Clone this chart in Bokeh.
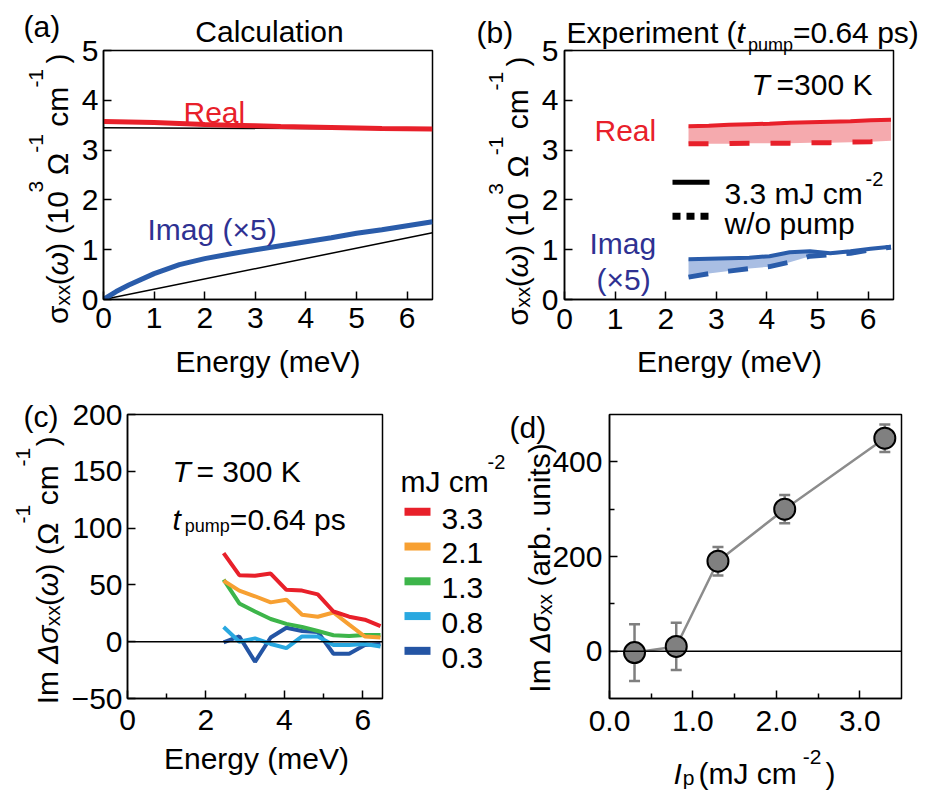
import math
from bokeh.plotting import figure
from bokeh.layouts import column, row
from bokeh.models import (Range1d, FixedTicker, Span, Whisker, ColumnDataSource, TeeHead,
                          NumeralTickFormatter)
from bokeh.core.properties import value
from bokeh.embed import file_html
from bokeh.resources import INLINE

FONT = "Liberation Sans"
RED = "#E8202A"
BLUE = "#2A5CAA"
INDIGO = "#2E3192"

# ---------------- data ----------------
# (a) calculation
calc_energy = [0, 0.25, 0.5, 1, 1.5, 2, 2.5, 3, 3.5, 4, 4.5, 5, 5.5, 6, 6.5]
calc_real = [3.575, 3.57, 3.565, 3.555, 3.535, 3.515, 3.50, 3.49, 3.475, 3.465, 3.455, 3.445, 3.435, 3.43, 3.425]
calc_imag = [0.0, 0.16, 0.29, 0.52, 0.70, 0.82, 0.915, 1.0, 1.08, 1.16, 1.24, 1.33, 1.40, 1.48, 1.56]
ref_energy = [0, 6.5]
ref_real = [3.45, 3.42]
ref_imag = [0.0, 1.34]

# (b) experiment
exp_energy = [2.45, 2.85, 3.25, 3.65, 4.05, 4.45, 4.85, 5.25, 5.65, 6.05, 6.45]
exp_real_pump = [3.48, 3.49, 3.51, 3.52, 3.53, 3.55, 3.56, 3.57, 3.58, 3.60, 3.61]
exp_real_nopump = [3.13, 3.13, 3.13, 3.14, 3.14, 3.14, 3.15, 3.15, 3.16, 3.17, 3.19]
exp_imag_pump = [0.81, 0.82, 0.83, 0.84, 0.87, 0.95, 0.97, 0.93, 0.97, 1.02, 1.06]
exp_imag_nopump = [0.45, 0.52, 0.57, 0.62, 0.66, 0.75, 0.87, 0.90, 0.93, 1.00, 1.05]

# (c) Im delta sigma for each fluence (mJ cm^-2)
fluence_labels = ["3.3", "2.1", "1.3", "0.8", "0.3"]
fluence_colors = ["#E8202A", "#F7A032", "#3DB54A", "#29A8E0", "#2455A4"]
dsig_33 = [78, 58.6, 58, 60, 45.7, 45, 41.7, 26.6, 22, 19.4, 13.7]
dsig_21 = [53.7, 45, 40, 34.6, 37, 23.7, 22, 25.7, 15, 4.6, 3.7]
dsig_13 = [54.6, 33.7, 26.6, 20, 15.7, 13, 9.4, 5.7, 5, 6, 6]
dsig_08 = [12.9, 0, 2.9, -2, -5.7, 4.6, 4.6, -2.9, -2.9, -2, -4.3]
dsig_03 = [-0.6, 4.6, -17.7, 3.7, 12.3, 9.4, 8.6, -10.6, -10.6, -2.9, -2]

# (d) fluence dependence
fluence = [0.3, 0.8, 1.3, 2.1, 3.3]
im_dsig = [-3, 10, 190, 300, 450]
im_dsig_err = [60, 50, 30, 30, 29]

# ---------------- layout geometry (page px) ----------------
GEOM = {
    "a": dict(o=(0, 0), size=(464, 395), fr=(103, 50, 432, 305), xr=(0, 6.5), yr=(0, 5)),
    "b": dict(o=(464, 0), size=(464, 395), fr=(564, 43, 893, 299), xr=(0, 6.5), yr=(0, 5)),
    "c": dict(o=(0, 395), size=(508, 395), fr=(127, 414, 382, 706), xr=(0, 6.5), yr=(-50, 200)),
    "d": dict(o=(508, 395), size=(420, 395), fr=(609, 405, 901, 698), xr=(0, 3.5), yr=(-100, 500)),
}

# approximate advance widths (Arial / Liberation Sans, per 1000 em)
WID = {" ": 278, "(": 333, ")": 333, "-": 333, ".": 278, "/": 278, "=": 584, "×": 584,
       "E": 667, "I": 278, "J": 500, "K": 667, "R": 722, "T": 611, "C": 722,
       "a": 556, "b": 556, "c": 500, "d": 556, "e": 556, "g": 556, "i": 222, "l": 222,
       "m": 833, "n": 556, "o": 556, "p": 556, "r": 333, "s": 500, "t": 278, "u": 556,
       "w": 722, "x": 500, "y": 500, "k": 500, "f": 278, "h": 556, "v": 500,
       "σ": 617, "ω": 781, "Ω": 768, "Δ": 668}
SP = 8.3  # width of a space at 30px


def tw(s, size):
    return sum(WID.get(ch, 556) for ch in s) * size / 1000.0


def to_data(g, X, Y):
    L, T, R, B = g["fr"]
    x0, x1 = g["xr"]
    y0, y1 = g["yr"]
    return x0 + (X - L) / (R - L) * (x1 - x0), y1 - (Y - T) / (B - T) * (y1 - y0)


def make_fig(key, tick_std_x, tick_std_y):
    g = GEOM[key]
    ox, oy = g["o"]
    w, h = g["size"]
    L, T, R, B = g["fr"]
    p = figure(width=w, height=h, x_range=Range1d(*g["xr"]), y_range=Range1d(*g["yr"]),
               output_backend="svg", toolbar_location=None,
               min_border_left=L - ox, min_border_right=(ox + w) - R,
               min_border_top=T - oy, min_border_bottom=(oy + h) - B)
    p.grid.visible = False
    p.outline_line_color = "black"
    p.outline_line_width = 1.5
    p.outline_line_alpha = 1
    p.background_fill_color = "white"
    p.border_fill_color = "white"
    for ax in (p.xaxis[0], p.yaxis[0]):
        ax.axis_line_color = "black"
        ax.axis_line_width = 1.5
        ax.major_tick_in = 8
        ax.major_tick_out = 0
        ax.minor_tick_in = 5
        ax.minor_tick_out = 0
        ax.major_tick_line_width = 1.5
        ax.minor_tick_line_width = 1.5
        ax.major_tick_line_color = "black"
        ax.minor_tick_line_color = "black"
        ax.major_label_text_font = FONT
        ax.major_label_text_font_size = "30px"
        ax.major_label_text_color = "black"
    p.xaxis.major_label_standoff = tick_std_x
    p.yaxis.major_label_standoff = tick_std_y
    return p


def txt(p, key, X, Y, text, size=30, color="black", style="normal", align="left", angle=0.0):
    x, y = to_data(GEOM[key], X, Y)
    p.text(x=[x], y=[y], text=[text], text_font=value(FONT), text_font_size=value(f"{size}px"),
           text_color=color, text_font_style=style, text_align=align,
           text_baseline="alphabetic", angle=angle, level="overlay")


def runs(p, key, X, Y, parts, color="black", rotated=False):
    """Lay out text runs along a baseline; parts = (text, size, style, raise, gap_before)."""
    cum = 0.0
    for text, size, style, dy, gap in parts:
        cum += gap
        if rotated:
            txt(p, key, X - dy, Y - cum, text, size=size, style=style, color=color, angle=math.pi / 2)
        else:
            txt(p, key, X + cum, Y - dy, text, size=size, style=style, color=color)
        cum += tw(text, size)


def seg(p, key, X0, Y0, X1, Y1, **kw):
    x0, y0 = to_data(GEOM[key], X0, Y0)
    x1, y1 = to_data(GEOM[key], X1, Y1)
    p.segment(x0=[x0], y0=[y0], x1=[x1], y1=[y1], level="overlay", **kw)


SIGMA_LABEL = [("σ", 30, "normal", 0, 0), ("xx", 21, "normal", -5, 0), ("(", 30, "normal", 0, 0),
               ("ω", 30, "italic", 0, 0), (") (10", 30, "normal", 0, 0), ("3", 21, "normal", 22, 0),
               ("Ω", 30, "normal", 0, 6), ("-1", 21, "normal", 22, 0), ("cm", 30, "normal", 0, 8),
               ("-1", 21, "normal", 22, 0), (")", 30, "normal", 0, 6)]

# ---------------- (a) ----------------
pa = make_fig("a", 8, 5)
pa.xaxis.ticker = FixedTicker(ticks=[0, 1, 2, 3, 4, 5, 6])
pa.yaxis.ticker = FixedTicker(ticks=[0, 1, 2, 3, 4, 5])
pa.line(ref_energy, ref_real, line_color="black", line_width=1.5)
pa.line(ref_energy, ref_imag, line_color="black", line_width=1.5)
pa.line(calc_energy, calc_real, line_color=RED, line_width=5)
pa.line(calc_energy, calc_imag, line_color=BLUE, line_width=5)
txt(pa, "a", 23, 25, "(a)")
txt(pa, "a", 269, 31, "Calculation", align="center")
txt(pa, "a", 183, 113, "Real", color=RED)
txt(pa, "a", 147, 233, "Imag (×5)", color=INDIGO)
txt(pa, "a", 267.5, 368, "Energy (meV)", align="center")
runs(pa, "a", 57, 330, SIGMA_LABEL, rotated=True)

# ---------------- (b) ----------------
pb = make_fig("b", 9, 6)
pb.xaxis.ticker = FixedTicker(ticks=[0, 1, 2, 3, 4, 5, 6])
pb.yaxis.ticker = FixedTicker(ticks=[0, 1, 2, 3, 4, 5])
pb.varea(x=exp_energy, y1=exp_real_nopump, y2=exp_real_pump, fill_color="#F5AAAE", fill_alpha=1)
pb.varea(x=exp_energy, y1=exp_imag_nopump, y2=exp_imag_pump, fill_color="#A9BEE3", fill_alpha=1)
pb.line(exp_energy, exp_real_pump, line_color=RED, line_width=4)
pb.line(exp_energy, exp_real_nopump, line_color=RED, line_width=5, line_dash="20 21")
pb.line(exp_energy, exp_imag_pump, line_color=BLUE, line_width=4)
pb.line(exp_energy, exp_imag_nopump, line_color=BLUE, line_width=5, line_dash="20 20")
# legend (drawn by hand)
seg(pb, "b", 672, 178.5, 709, 178.5, line_color="black", line_width=5)
seg(pb, "b", 672, 213.5, 709, 213.5, line_color="black", line_width=7, line_dash="8 6")
txt(pb, "b", 724, 190, "3.3 mJ cm")
txt(pb, "b", 865, 175, "-2", size=20)
txt(pb, "b", 724, 221, "w/o pump")
txt(pb, "b", 476, 25, "(b)")
runs(pb, "b", 566, 25, [("Experiment (", 30, "normal", 0, 0), ("t", 30, "italic", 0, 0),
                        ("pump", 18, "normal", -12, 3), ("=0.64 ps)", 30, "normal", 0, 0)])
txt(pb, "b", 751, 78, "T", style="italic")
txt(pb, "b", 776, 78, "=300 K")
txt(pb, "b", 594, 125, "Real", color=RED)
txt(pb, "b", 589, 241, "Imag", color=INDIGO)
txt(pb, "b", 596, 278, "(×5)", color=INDIGO)
txt(pb, "b", 729, 363, "Energy (meV)", align="center")
runs(pb, "b", 517, 326, SIGMA_LABEL, rotated=True)

# ---------------- (c) ----------------
pc = make_fig("c", 11, 5)
pc.xaxis.ticker = FixedTicker(ticks=[0, 2, 4, 6], minor_ticks=[1, 3, 5])
pc.yaxis.ticker = FixedTicker(ticks=[-50, 0, 50, 100, 150, 200])
pc.add_layout(Span(location=0, dimension="width", line_color="black", line_width=1.5))
series_c = [dsig_33, dsig_21, dsig_13, dsig_08, dsig_03]
for vals, col in reversed(list(zip(series_c, fluence_colors))):
    pc.line(exp_energy, vals, line_color=col, line_width=4)
# legend (drawn by hand)
txt(pc, "c", 400, 483, "mJ cm")
txt(pc, "c", 487, 463, "-2", size=20)
for i, (lbl, col) in enumerate(zip(fluence_labels, fluence_colors)):
    yy = 514 + 35.75 * i
    seg(pc, "c", 404, yy, 430, yy, line_color=col, line_width=8)
    txt(pc, "c", 441, yy + 7, lbl)
txt(pc, "c", 23, 416, "(c)")
txt(pc, "c", 172, 473, "T", style="italic")
txt(pc, "c", 196, 473, "= 300 K")
runs(pc, "c", 172, 522, [("t", 30, "italic", 0, 0), ("pump", 18, "normal", -7, 4),
                         ("=0.64 ps", 30, "normal", 0, 0)])
txt(pc, "c", 256, 768, "Energy (meV)", align="center")
runs(pc, "c", 47, 712, [("Im", 30, "normal", 0, 0), ("Δσ", 30, "italic", 0, SP),
                        ("xx", 21, "normal", -5, 0), ("(", 30, "normal", 0, 0),
                        ("ω", 30, "italic", 0, 0), (") (Ω", 30, "normal", 0, 0),
                        ("-1", 21, "normal", 25, 0), ("cm", 30, "normal", 0, 0),
                        ("-1", 21, "normal", 25, 0), (")", 30, "normal", 0, 2)], rotated=True)

# ---------------- (d) ----------------
pd_ = make_fig("d", 12, 7)
pd_.xaxis.ticker = FixedTicker(ticks=[0, 1, 2, 3], minor_ticks=[0.5, 1.5, 2.5])
pd_.yaxis.ticker = FixedTicker(ticks=[0, 200, 400], minor_ticks=[100, 300])
pd_.xaxis.formatter = NumeralTickFormatter(format="0.0")
pd_.add_layout(Span(location=0, dimension="width", line_color="black", line_width=1.5))
src_d = ColumnDataSource(dict(x=fluence, y=im_dsig,
                              upper=[v + e for v, e in zip(im_dsig, im_dsig_err)],
                              lower=[v - e for v, e in zip(im_dsig, im_dsig_err)]))
pd_.add_layout(Whisker(source=src_d, base="x", upper="upper", lower="lower",
                       line_color="#7F7F7F", line_width=2.5,
                       upper_head=TeeHead(size=11, line_color="#7F7F7F", line_width=2.5),
                       lower_head=TeeHead(size=11, line_color="#7F7F7F", line_width=2.5)))
pd_.line("x", "y", source=src_d, line_color="#8C8C8C", line_width=2.5)
pd_.scatter("x", "y", source=src_d, size=21, fill_color="#808080", line_color="black", line_width=2)
txt(pd_, "d", 509, 418, "(d)")
runs(pd_, "d", 673, 775, [("I", 30, "italic", 0, 0), ("p", 21, "normal", -5, 1),
                          ("(mJ cm", 30, "normal", 0, 4), ("-2", 21, "normal", 17, 6),
                          (")", 30, "normal", 0, 4)])
runs(pd_, "d", 539, 692, [("Im", 30, "normal", 0, 0), ("Δσ", 30, "italic", 0, SP),
                          ("xx", 21, "normal", -5, 0), ("(arb. units)", 30, "normal", 0, SP)],
     rotated=True)

layout = column(row(pa, pb), row(pc, pd_))
open("out.html", "w").write(file_html(layout, INLINE))
